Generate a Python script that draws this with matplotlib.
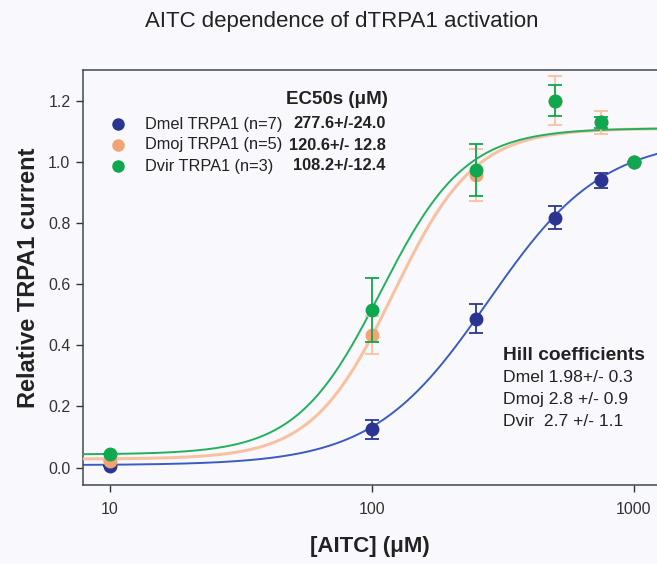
import numpy as np
import matplotlib
matplotlib.use("Agg")
import matplotlib.pyplot as plt

# measured points (AITC in uM)
conc = [10, 100, 250, 500, 750, 1000]

dmel_y = [0.006, 0.125, 0.487, 0.818, 0.940, 1.0]
dmel_err = [0, 0.030, 0.048, 0.038, 0.024, 0]

dmoj_y = [0.023, 0.435, 0.957, 1.200, 1.130, 1.0]
dmoj_err = [0, 0.062, 0.085, 0.080, 0.038, 0]

dvir_y = [0.045, 0.516, 0.975, 1.200, 1.130, 1.0]
dvir_err = [0, 0.105, 0.085, 0.050, 0.018, 0]

# Hill fit parameters
ec50 = [277.6, 120.6, 108.2]
hill_n = [1.98, 2.8, 2.7]
bottom = [0.008, 0.028, 0.043]
top = [1.08, 1.11, 1.11]

names = ["Dmel TRPA1 (n=7)", "Dmoj TRPA1 (n=5)", "Dvir TRPA1 (n=3)"]
ec50_labels = ["277.6+/-24.0", "120.6+/- 12.8", "108.2+/-12.4"]
hill_labels = ["Dmel 1.98+/- 0.3", "Dmoj 2.8 +/- 0.9", "Dvir  2.7 +/- 1.1"]

marker_colors = ["#2b3591", "#f2a474", "#0fa74f"]
line_colors = ["#3b5cc2", "#f8c2a2", "#22b060"]

bg = "#f9f9fd"
plt.rcParams["font.family"] = ["Liberation Sans", "DejaVu Sans"]

fig = plt.figure(figsize=(6.57, 5.64), dpi=100, facecolor=bg)
ax = fig.add_axes([0.1263, 0.14, 0.8737, 0.7359], facecolor=bg)

xmin, xmax = 7.89, 1224
xs = np.logspace(np.log10(xmin), np.log10(xmax), 400)

series = [(dmel_y, dmel_err), (dmoj_y, dmoj_err), (dvir_y, dvir_err)]
for i, (ys, err) in enumerate(series):
    fit = bottom[i] + (top[i] - bottom[i]) / (1 + (ec50[i] / xs) ** hill_n[i])
    ax.plot(xs, fit, color=line_colors[i], lw=1.4 if i != 1 else 2.2, zorder=2 + i)
for i, (ys, err) in enumerate(series):
    ax.errorbar(conc, ys, yerr=err, fmt="o", color=marker_colors[i], ms=9,
                ecolor=line_colors[i] if i == 1 else marker_colors[i],
                elinewidth=1.3, capsize=5, capthick=1.3, zorder=5 + i)

ax.set_xscale("log")
ax.set_xlim(xmin, xmax)
ax.set_ylim(-0.057, 1.3005)
ax.set_xticks([10, 100, 1000])
ax.set_xticklabels(["10", "100", "1000"])
ax.xaxis.set_minor_locator(matplotlib.ticker.NullLocator())
ax.set_yticks([0.0, 0.2, 0.4, 0.6, 0.8, 1.0, 1.2])
ax.set_yticklabels(["0.0", "0.2", "0.4", "0.6", "0.8", "1.0", "1.2"])
ax.tick_params(labelsize=11.5, colors="#333333", length=5, width=1, pad=4)
ax.tick_params(axis="x", pad=7)
for s in ["left", "bottom", "top"]:
    ax.spines[s].set_color("#3e4853")
    ax.spines[s].set_linewidth(1.1)
ax.spines["right"].set_visible(False)

ax.set_ylabel("Relative TRPA1 current", fontsize=17, fontweight="bold",
              color="#222222", labelpad=6)
ax.set_xlabel("[AITC] (\u03bcM)", fontsize=16, fontweight="bold",
              color="#222222", labelpad=14)
fig.text(342 / 657, 1 - 21 / 564, "AITC dependence of dTRPA1 activation",
         ha="center", va="center", fontsize=16, color="#222222")

# EC50 legend
fig.text(337 / 657, 1 - 100 / 564, "EC50s (\u03bcM)", ha="center", va="center",
         fontsize=13.5, fontweight="bold", color="#222222")
for i in range(3):
    yy = 1 - (124 + 21 * i) / 564
    fig.lines.append(matplotlib.lines.Line2D([118 / 657], [yy], marker="o",
                     ms=8, color=marker_colors[i], transform=fig.transFigure))
    fig.text(145 / 657, yy, names[i], ha="left", va="center", fontsize=11.8,
             color="#222222")
    fig.text((293 if i != 1 else 289) / 657, yy, ec50_labels[i], ha="left",
             va="center", fontsize=11.8, fontweight="bold", color="#222222")

# Hill legend
fig.text(503 / 657, 1 - 355 / 564, "Hill coefficients", ha="left", va="center",
         fontsize=13.8, fontweight="bold", color="#222222")
for i in range(3):
    fig.text(503 / 657, 1 - (378 + 21.5 * i) / 564, hill_labels[i], ha="left",
             va="center", fontsize=12.6, color="#222222")

fig.savefig("out.png", dpi=100, facecolor=bg)
